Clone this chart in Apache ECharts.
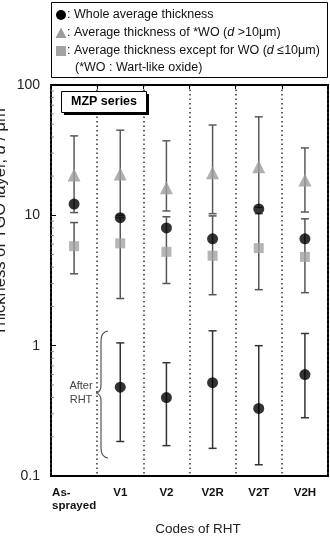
<!DOCTYPE html>
<html>
<head>
<meta charset="utf-8">
<script src="https://cdn.jsdelivr.net/npm/echarts@6/dist/echarts.min.js"></script>
<style>
  html, body { margin: 0; padding: 0; background: #fff; }
  #main { width: 330px; height: 538px; }
</style>
</head>
<body>
<div id="main"></div>
<script>
// RHT codes
const categories = ['As-sprayed', 'V1', 'V2', 'V2R', 'V2T', 'V2H']
// whole average thickness (black circle), before RHT
const wholeAvg = [12.2, 9.6, 8.0, 6.6, 11.2, 6.6]
// average thickness of WO, d > 10um (grey triangle)
const woAvg = [20.4, 20.8, 16.3, 21.2, 23.6, 18.7]
const woLow = [10.5, 10.0, 10.8, 10.3, 11.5, 10.6]
const woHigh = [40.7, 45.0, 37.3, 49.3, 57.0, 32.9]
// average thickness except WO, d <= 10um (grey square)
const exceptAvg = [5.8, 6.1, 5.25, 4.9, 5.6, 4.8]
const exceptLow = [3.56, 2.3, 3.0, 2.46, 2.69, 2.55]
const exceptHigh = [8.8, 9.6, 9.75, 9.9, 10.3, 9.4]
// whole average after RHT
const afterAvg = [null, 0.48, 0.40, 0.52, 0.33, 0.60]
const afterLow = [null, 0.184, 0.171, 0.163, 0.122, 0.28]
const afterHigh = [null, 1.05, 0.74, 1.30, 1.0, 1.24]
// y axis
const yMin = 0.1
const yMax = 100
const minorTicks = [0.2, 0.3, 0.4, 0.5, 0.6, 0.7, 0.8, 0.9, 2, 3, 4, 5, 6, 7, 8, 9, 20, 30, 40, 50, 60, 70, 80, 90]

const font = 'Liberation Sans, Arial, sans-serif'

function pairs (vals) {
  return vals.map((v, i) => (v == null ? null : [i, v])).filter(d => d)
}
function errs (lo, hi) {
  return lo.map((v, i) => (v == null ? null : [i, v, hi[i]])).filter(d => d)
}

function errorBar (color) {
  return function (params, api) {
    const x = api.value(0)
    const a = api.coord([x, api.value(1)])
    const b = api.coord([x, api.value(2)])
    const hw = 4
    const style = { stroke: color, lineWidth: 1.5 }
    return {
      type: 'group',
      children: [
        { type: 'line', shape: { x1: a[0], y1: a[1], x2: b[0], y2: b[1] }, style },
        { type: 'line', shape: { x1: a[0] - hw, y1: a[1], x2: a[0] + hw, y2: a[1] }, style },
        { type: 'line', shape: { x1: b[0] - hw, y1: b[1], x2: b[0] + hw, y2: b[1] }, style }
      ]
    }
  }
}

const braceStyle = { stroke: '#555', lineWidth: 1.2, fill: 'none' }
const legendFont = '12.5px ' + font
const italic = { i: { fontStyle: 'italic', fontSize: 12.5, fontFamily: font } }

const myChart = echarts.init(document.getElementById('main'))

const options = {
  animation: false,
  grid: {
    left: 51,
    right: 2,
    top: 85,
    bottom: 62,
    show: true,
    borderColor: '#000',
    borderWidth: 2
  },
  xAxis: [
    {
      type: 'category',
      data: categories,
      boundaryGap: true,
      axisLine: { show: false },
      axisTick: { show: false },
      axisLabel: {
        margin: 10,
        interval: 0,
        fontFamily: font,
        fontWeight: 'bold',
        fontSize: 11.5,
        color: '#111',
        lineHeight: 13,
        formatter: function (v) {
          if (v === 'As-sprayed') return '{l|As-}\n{l|sprayed}'
          return v
        },
        rich: {
          l: { width: 44, align: 'left', fontFamily: font, fontWeight: 'bold', fontSize: 11.5, color: '#111', lineHeight: 13 }
        }
      },
      splitLine: {
        show: true,
        interval: 0,
        lineStyle: { color: '#333', width: 1.5, type: [1.5, 3] }
      }
    },
    {
      type: 'category',
      data: categories,
      position: 'top',
      boundaryGap: true,
      axisLine: { show: false },
      axisLabel: { show: false },
      axisTick: { show: true, inside: true, length: 4, interval: 0, lineStyle: { color: '#000', width: 1 } }
    }
  ],
  yAxis: {
    type: 'log',
    logBase: 10,
    min: yMin,
    max: yMax,
    axisLine: { show: false },
    axisTick: { show: true, inside: true, length: 5, lineStyle: { color: '#000' } },
    axisLabel: {
      margin: 11,
      fontFamily: font,
      fontSize: 14,
      color: '#222',
      formatter: function (v) { return String(v) }
    },
    splitLine: { show: false }
  },
  series: [
    {
      name: 'minor',
      type: 'custom',
      silent: true,
      data: minorTicks.map(v => [0, v]),
      encode: { x: 0, y: 1 },
      renderItem: function (params, api) {
        const y = api.coord([0, api.value(1)])[1]
        const x = params.coordSys.x
        return { type: 'line', shape: { x1: x, y1: y, x2: x + 3, y2: y }, style: { stroke: '#888', lineWidth: 1 } }
      },
      z: 1
    },
    {
      name: 'woErr',
      type: 'custom',
      data: errs(woLow, woHigh),
      encode: { x: 0, y: [1, 2] },
      renderItem: errorBar('#5a5a5a'),
      z: 2
    },
    {
      name: 'exceptErr',
      type: 'custom',
      data: errs(exceptLow, exceptHigh),
      encode: { x: 0, y: [1, 2] },
      renderItem: errorBar('#555'),
      z: 2
    },
    {
      name: 'afterErr',
      type: 'custom',
      data: errs(afterLow, afterHigh),
      encode: { x: 0, y: [1, 2] },
      renderItem: errorBar('#333'),
      z: 2
    },
    {
      name: 'Average thickness of *WO',
      type: 'scatter',
      data: pairs(woAvg),
      symbol: 'triangle',
      symbolSize: 13,
      itemStyle: { color: '#9c9c9c' },
      z: 3
    },
    {
      name: 'Average thickness except for WO',
      type: 'scatter',
      data: pairs(exceptAvg),
      symbol: 'rect',
      symbolSize: 10,
      itemStyle: { color: '#a3a3a3' },
      z: 3
    },
    {
      name: 'Whole average thickness',
      type: 'scatter',
      data: pairs(wholeAvg),
      symbol: 'circle',
      symbolSize: 11,
      itemStyle: { color: '#000' },
      z: 4
    },
    {
      name: 'After RHT',
      type: 'scatter',
      data: pairs(afterAvg),
      symbol: 'circle',
      symbolSize: 11,
      itemStyle: { color: '#000' },
      z: 4
    }
  ],
  graphic: [
    // legend box
    { type: 'rect', shape: { x: 51.5, y: 2.5, width: 276, height: 75 }, style: { fill: '#fff', stroke: '#000', lineWidth: 1 } },
    { type: 'circle', shape: { cx: 61, cy: 15, r: 5 }, style: { fill: '#000' } },
    { type: 'text', x: 67, y: 15, style: { text: ': Whole average thickness', font: legendFont, fill: '#111', verticalAlign: 'middle' } },
    { type: 'polygon', shape: { points: [[61, 27.5], [55.5, 38], [66.5, 38]] }, style: { fill: '#9c9c9c' } },
    { type: 'text', x: 67, y: 33, style: { text: ': Average thickness of *WO ({i|d} >10μm)', font: legendFont, fill: '#111', verticalAlign: 'middle', rich: italic } },
    { type: 'rect', shape: { x: 56, y: 46, width: 10, height: 10 }, style: { fill: '#a3a3a3' } },
    { type: 'text', x: 67, y: 51, style: { text: ': Average thickness except for WO ({i|d} ≤10μm)', font: legendFont, fill: '#111', verticalAlign: 'middle', rich: italic } },
    { type: 'text', x: 75, y: 68, style: { text: '(*WO : Wart-like oxide)', font: legendFont, fill: '#111', verticalAlign: 'middle' } },
    // MZP series box with shadow
    { type: 'rect', shape: { x: 64, y: 94, width: 85, height: 21 }, style: { fill: '#000' }, z: 10 },
    { type: 'rect', shape: { x: 61.5, y: 91.5, width: 85, height: 21 }, style: { fill: '#fff', stroke: '#000', lineWidth: 1 }, z: 11 },
    { type: 'text', x: 104, y: 102, style: { text: 'MZP series', font: 'bold 12.5px ' + font, fill: '#000', align: 'center', verticalAlign: 'middle' }, z: 12 },
    // After RHT brace
    { type: 'bezierCurve', shape: { x1: 108, y1: 331, cpx1: 101, cpy1: 332, x2: 101, y2: 341 }, style: braceStyle, z: 10 },
    { type: 'line', shape: { x1: 101, y1: 341, x2: 101, y2: 385 }, style: braceStyle, z: 10 },
    { type: 'bezierCurve', shape: { x1: 101, y1: 385, cpx1: 101, cpy1: 392, x2: 96, y2: 393 }, style: braceStyle, z: 10 },
    { type: 'bezierCurve', shape: { x1: 96, y1: 393, cpx1: 101, cpy1: 394, x2: 101, y2: 401 }, style: braceStyle, z: 10 },
    { type: 'line', shape: { x1: 101, y1: 401, x2: 101, y2: 448 }, style: braceStyle, z: 10 },
    { type: 'bezierCurve', shape: { x1: 101, y1: 448, cpx1: 101, cpy1: 457, x2: 108, y2: 458 }, style: braceStyle, z: 10 },
    { type: 'text', x: 81, y: 393, style: { text: 'After\nRHT', font: '11px ' + font, fill: '#444', align: 'center', verticalAlign: 'middle', lineHeight: 14 }, z: 10 },
    // axis titles
    { type: 'text', x: 198, y: 529, style: { text: 'Codes of RHT', font: '13.5px ' + font, fill: '#222', align: 'center', verticalAlign: 'middle' } },
    {
      type: 'text', x: 0, y: 222, rotation: Math.PI / 2,
      style: {
        text: 'Thickness of TGO layer, {i|d} / μm',
        font: '16.5px ' + font, fill: '#222', align: 'center', verticalAlign: 'middle',
        rich: { i: { fontStyle: 'italic', fontSize: 16.5, fontFamily: font, fill: '#222' } }
      }
    }
  ]
}

myChart.setOption(options)
</script>
</body>
</html>
